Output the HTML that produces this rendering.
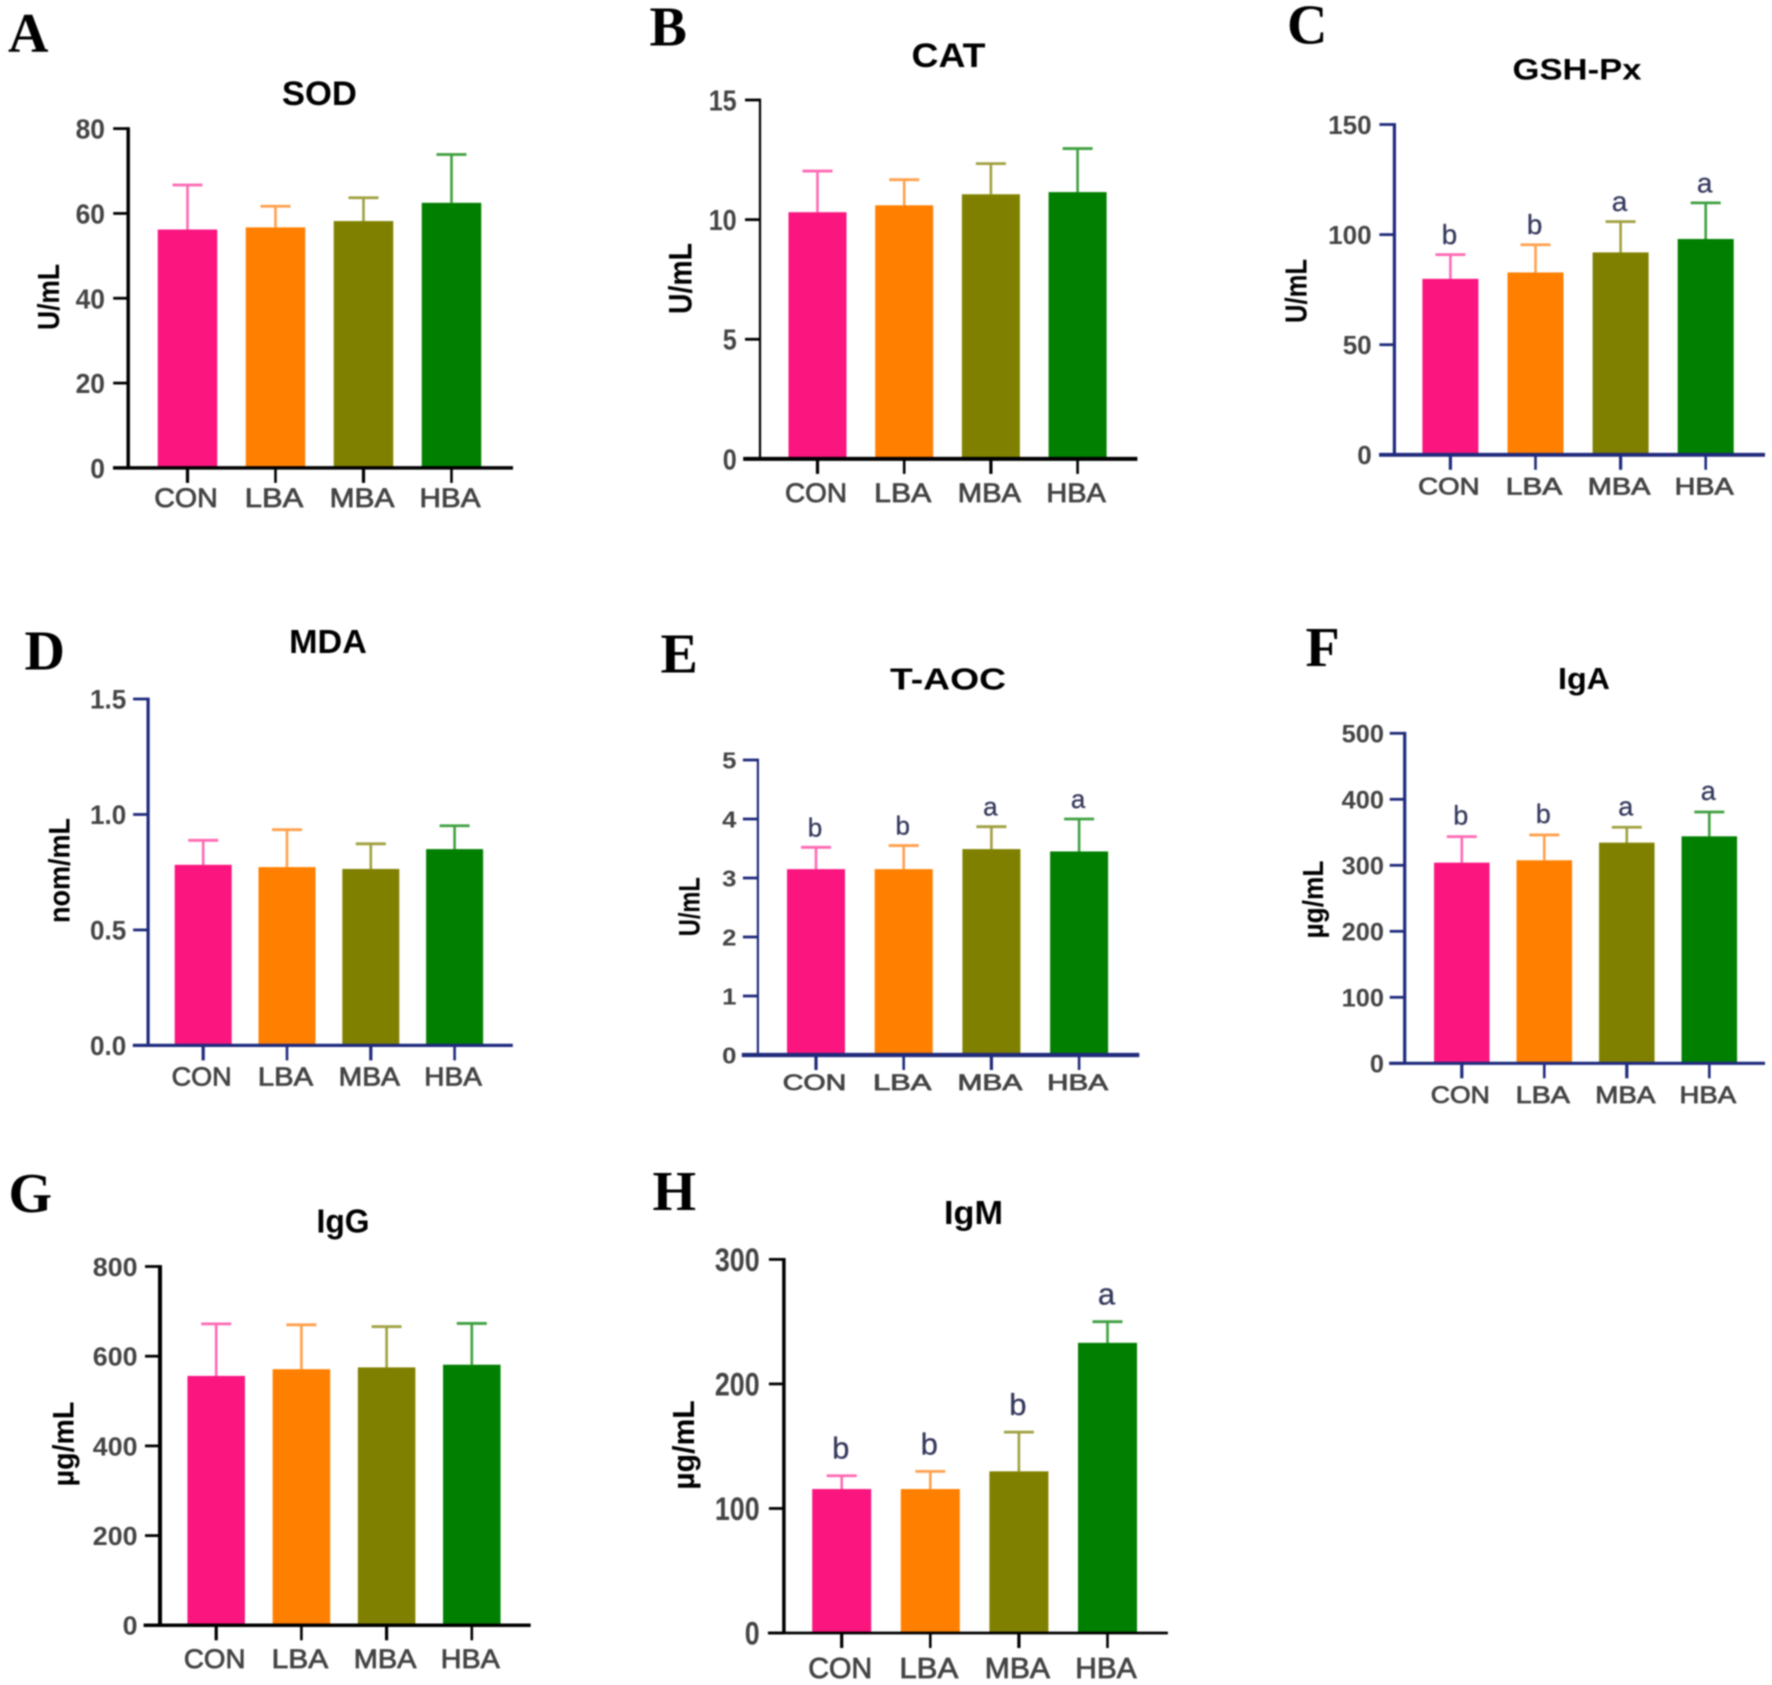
<!DOCTYPE html>
<html lang="en">
<head>
<meta charset="utf-8">
<title>Serum antioxidant and immunoglobulin bar charts</title>
<style>
html,body{margin:0;padding:0;background:#fff;width:1772px;height:1685px;overflow:hidden}
svg{display:block;filter:blur(0.7px)}
text{font-family:"Liberation Sans",Arial,sans-serif}
.panel-letter{font-family:"Liberation Serif","Times New Roman",serif;font-weight:bold;fill:#000}
.title{font-weight:bold;fill:#000}
.ylab{font-weight:bold;fill:#000}
.ytick{font-weight:bold;fill:#444}
.xtick{fill:#444;stroke:#444;stroke-width:.8}
.sig{fill:#35395c;stroke:#35395c;stroke-width:.3}
</style>
</head>
<body>
<svg id="figure" xmlns="http://www.w3.org/2000/svg" width="1772" height="1685" viewBox="0 0 1772 1685"></svg>
<script>
const categories = ['CON','LBA','MBA','HBA'];

const sodTicks = ['0','20','40','60','80'];
const sodMeans = [56.2,56.7,58.2,62.5];
const sodUpper = [66.7,61.7,63.7,73.9];

const catTicks = ['0','5','10','15'];
const catMeans = [10.31,10.6,11.06,11.15];
const catUpper = [12.03,11.67,12.34,12.97];

const gshTicks = ['0','50','100','150'];
const gshMeans = [79.9,82.8,91.9,98];
const gshUpper = [90.9,95.4,105.9,114.4];
const gshLetters = ['b','b','a','a'];

const mdaTicks = ['0.0','0.5','1.0','1.5'];
const mdaMeans = [0.782,0.772,0.764,0.85];
const mdaUpper = [0.888,0.934,0.873,0.951];

const aocTicks = ['0','1','2','3','4','5'];
const aocMeans = [3.15,3.15,3.49,3.45];
const aocUpper = [3.52,3.55,3.87,4.0];
const aocLetters = ['b','b','a','a'];

const igaTicks = ['0','100','200','300','400','500'];
const igaMeans = [304,307.6,334.3,343.9];
const igaUpper = [343.4,346,357.6,380.8];
const igaLetters = ['b','b','a','a'];

const iggTicks = ['0','200','400','600','800'];
const iggMeans = [556,571,575,581];
const iggUpper = [672,670,666,673];

const igmTicks = ['0','100','200','300'];
const igmMeans = [115.6,115.6,129.8,233];
const igmUpper = [126.3,129.8,161.3,250];
const igmLetters = ['b','b','b','a'];

const barColors = ['#fa157f','#ff7f00','#808000','#007f00'];
const errColors = ['#ff69b4','#ffa04d','#a0a040','#40a040'];
const widthRatios = [1,0.92,1.02,0.96];

const panels = [
  {id:'a',letter:'A',lx:8,ly:52,title:'SOD',tx:319.4,ty:105,tw:75,tfs:34,unit:'U/mL',ux:59,uy:297,uw:66,ufs:31,
   ticks:sodTicks,means:sodMeans,upper:sodUpper,color:'#000',axX:128.2,yTop:128.6,y0:467.9,xL:113,xR:513,ywd:3.5,xwd:3.5,
   cx0:187.5,step:88,bw:59.5,dw:14.7,yfs:28,yEnd:105,xfs:27,xBase:507,conW:63.5},
  {id:'b',letter:'B',lx:649.5,ly:45.7,title:'CAT',tx:948.5,ty:67,tw:74,tfs:34,unit:'U/mL',ux:691.6,uy:278.5,uw:71,ufs:32,
   ticks:catTicks,means:catMeans,upper:catUpper,color:'#000',axX:760,yTop:100,y0:458.9,xL:743.2,xR:1137.4,ywd:2.2,xwd:4,
   cx0:817.5,step:86.7,bw:58,dw:14,yfs:29,yEnd:736.7,xfs:27,xBase:502,conW:62},
  {id:'c',letter:'C',lx:1287,ly:43.5,title:'GSH-Px',tx:1577,ty:79.5,tw:129,tfs:30,unit:'U/mL',ux:1306.5,uy:291,uw:64,ufs:31,
   ticks:gshTicks,means:gshMeans,upper:gshUpper,letters:gshLetters,sigFs:28,sigGap:10.5,color:'#1f2a7c',axX:1394.4,yTop:124.5,y0:454.8,xL:1379.1,xR:1765,ywd:3.2,xwd:3.8,
   cx0:1450.4,step:85.1,bw:56,dw:14.5,yfs:26,yEnd:1371.7,xfs:24,xBase:494.6,conW:61.5},
  {id:'d',letter:'D',lx:24.5,ly:669.6,title:'MDA',tx:328,ty:653.2,tw:77.7,tfs:33,unit:'nom/mL',ux:69.5,uy:870.5,uw:105,ufs:30,
   ticks:mdaTicks,means:mdaMeans,upper:mdaUpper,color:'#1f2a7c',axX:148.1,yTop:699,y0:1045.4,xL:132.8,xR:512.8,ywd:3.2,xwd:3.2,
   cx0:203.2,step:83.8,bw:57,dw:14.5,yfs:27,yEnd:126.3,xfs:26,xBase:1085.6,conW:60},
  {id:'e',letter:'E',lx:660.5,ly:672.5,title:'T-AOC',tx:948,ty:689.5,tw:116,tfs:31,unit:'U/mL',ux:699.5,uy:906.7,uw:59,ufs:30,
   ticks:aocTicks,means:aocMeans,upper:aocUpper,letters:aocLetters,sigFs:26,sigGap:11,color:'#1f2a7c',axX:757.9,yTop:760,y0:1055,xL:741.8,xR:1139.3,ywd:2.2,xwd:4.2,
   cx0:816,step:87.7,bw:58,dw:14.3,yfs:23,yEnd:736.4,xfs:22,xBase:1090,conW:63.5},
  {id:'f',letter:'F',lx:1305.5,ly:666,title:'IgA',tx:1584,ty:689,tw:52,tfs:31,unit:'µg/mL',ux:1323,uy:899.5,uw:78,ufs:29,
   ticks:igaTicks,means:igaMeans,upper:igaUpper,letters:igaLetters,sigFs:27,sigGap:12,color:'#1f2a7c',axX:1404.7,yTop:733.3,y0:1063.3,xL:1389.1,xR:1765,ywd:3.2,xwd:3.2,
   cx0:1461.8,step:82.5,bw:55.5,dw:14.1,yfs:25,yEnd:1384,xfs:24,xBase:1103,conW:59},
  {id:'g',letter:'G',lx:8.5,ly:1212,title:'IgG',tx:343,ty:1232.5,tw:53,tfs:33,unit:'µg/mL',ux:73.5,uy:1444,uw:84.7,ufs:30,
   ticks:iggTicks,means:iggMeans,upper:iggUpper,color:'#000',axX:160,yTop:1266.5,y0:1625.3,xL:143.6,xR:530.7,ywd:4,xwd:3.5,
   cx0:216.2,step:85.2,bw:57.5,dw:14.9,yfs:26,yEnd:137.5,xfs:27,xBase:1668,conW:61.5},
  {id:'h',letter:'H',lx:652.5,ly:1210,title:'IgM',tx:973.5,ty:1224,tw:59,tfs:33,unit:'µg/mL',ux:694,uy:1445,uw:89.4,ufs:31,
   ticks:igmTicks,means:igmMeans,upper:igmUpper,letters:igmLetters,sigFs:31,sigGap:17,color:'#000',axX:783.9,yTop:1259.4,y0:1633,xL:767.9,xR:1167.9,ywd:3.5,xwd:2.8,
   cx0:841.7,step:88.6,bw:59,dw:14.9,yfs:32,yEnd:759.6,xfs:29,xBase:1678,conW:64}
];

const svg = document.getElementById('figure');
const NS = 'http://www.w3.org/2000/svg';

function mk(tag, attrs, parent, txt) {
  const n = document.createElementNS(NS, tag);
  for (const k in attrs) n.setAttribute(k, attrs[k]);
  if (txt !== undefined) n.textContent = txt;
  parent.appendChild(n);
  return n;
}

function drawPanel(p) {
  const g = mk('g', {}, svg);
  
  

  const maxV = Number(p.ticks[p.ticks.length - 1]);
  const yOf = v => p.y0 - (v / maxV) * (p.y0 - p.yTop);
  const xOf = i => p.cx0 + i * p.step;

  let el = mk('text', {class:'panel-letter', x:p.lx, y:p.ly, 'font-size':56}, g, p.letter);
  
  

  el = mk('text', {class:'title', x:p.tx, y:p.ty, 'font-size':p.tfs, 'text-anchor':'middle', textLength:p.tw, lengthAdjust:'spacingAndGlyphs'}, g, p.title);
  
  

  el = mk('text', {class:'ylab', 'font-size':p.ufs, 'text-anchor':'middle', textLength:p.uw, lengthAdjust:'spacingAndGlyphs', transform:'translate(' + p.ux + ' ' + p.uy + ') rotate(-90)'}, g, p.unit);
  
  

  categories.forEach((cat, i) => {
    const cx = xOf(i);
    const top = yOf(p.means[i]);
    const up = yOf(p.upper[i]);

    const stem = mk('line', {x1:cx, x2:cx, y1:top, y2:up, stroke:errColors[i], 'stroke-width':2.6}, g);
    
    

    const cap = mk('line', {x1:cx - 15, x2:cx + 15, y1:up, y2:up, stroke:errColors[i], 'stroke-width':2.8}, g);
    
    

    const bar = mk('rect', {x:cx - p.bw / 2, y:top, width:p.bw, height:p.y0 - top, fill:barColors[i]}, g);
    
    

    const tick = mk('line', {x1:cx, x2:cx, y1:p.y0, y2:p.y0 + 15, stroke:p.color, 'stroke-width':i % 2 ? 2.6 : 3.2}, g);
    
    

    const lab = mk('text', {class:'xtick', x:cx - 1.5, y:p.xBase, 'font-size':p.xfs, 'text-anchor':'middle', textLength:p.conW * widthRatios[i], lengthAdjust:'spacingAndGlyphs'}, g, cat);
    
    

    if (p.letters) {
      const sig = mk('text', {class:'sig', x:cx - 1, y:up - p.sigGap, 'font-size':p.sigFs, 'text-anchor':'middle'}, g, p.letters[i]);
      
      
    }
  });

  p.ticks.forEach(t => {
    const y = yOf(Number(t));
    const tk = mk('line', {x1:p.axX - 15, x2:p.axX, y1:y, y2:y, stroke:p.color, 'stroke-width':2.8}, g);
    
    

    const digits = t.replace('.', '').length;
    const dots = t.length - digits;
    const lb = mk('text', {class:'ytick', x:p.yEnd, y:y + p.yfs * 0.36, 'font-size':p.yfs, 'text-anchor':'end', textLength:p.dw * digits + p.dw * 0.5 * dots, lengthAdjust:'spacingAndGlyphs'}, g, t);
    
    
  });

  const ya = mk('line', {x1:p.axX, x2:p.axX, y1:p.yTop - 1.4, y2:p.y0, stroke:p.color, 'stroke-width':p.ywd}, g);
  
  

  const xa = mk('line', {x1:p.xL, x2:p.xR, y1:p.y0, y2:p.y0, stroke:p.color, 'stroke-width':p.xwd}, g);
  
  
}

panels.forEach(drawPanel);
</script>
</body>
</html>
